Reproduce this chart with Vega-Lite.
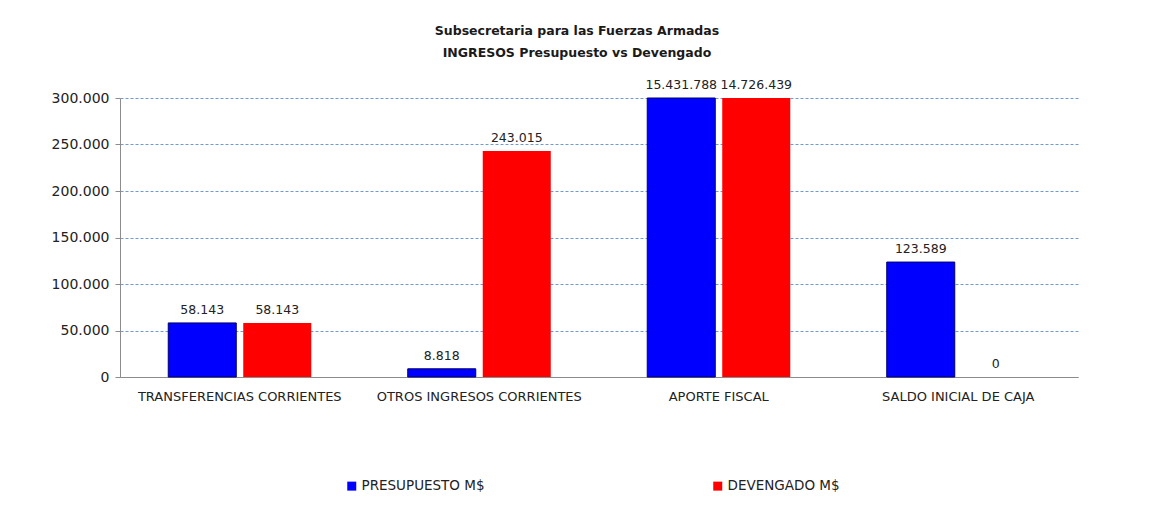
{
  "$schema": "https://vega.github.io/schema/vega-lite/v6.json",
  "autosize": "none",
  "width": 958,
  "height": 279,
  "padding": {"left": 120, "top": 98, "right": 79, "bottom": 150},
  "background": "white",
  "config": {
    "locale": {"number": {"decimal": ",", "thousands": ".", "grouping": [3], "currency": ["$", ""]}},
    "view": {"stroke": null},
    "font": "DejaVu Sans"
  },
  "title": {
    "text": ["Subsecretaria para las Fuerzas Armadas", "INGRESOS Presupuesto vs Devengado"],
    "font": "DejaVu Sans",
    "fontSize": 12.5,
    "fontWeight": "bold",
    "color": "#1a1a1a",
    "lineHeight": 22,
    "offset": 20,
    "dx": -22,
    "anchor": "middle"
  },
  "data": {
    "values": [
      {"categoria": "TRANSFERENCIAS CORRIENTES", "serie": "PRESUPUESTO M$", "monto": 58143},
      {"categoria": "TRANSFERENCIAS CORRIENTES", "serie": "DEVENGADO M$", "monto": 58143},
      {"categoria": "OTROS INGRESOS CORRIENTES", "serie": "PRESUPUESTO M$", "monto": 8818},
      {"categoria": "OTROS INGRESOS CORRIENTES", "serie": "DEVENGADO M$", "monto": 243015},
      {"categoria": "APORTE FISCAL", "serie": "PRESUPUESTO M$", "monto": 15431788},
      {"categoria": "APORTE FISCAL", "serie": "DEVENGADO M$", "monto": 14726439},
      {"categoria": "SALDO INICIAL DE CAJA", "serie": "PRESUPUESTO M$", "monto": 123589},
      {"categoria": "SALDO INICIAL DE CAJA", "serie": "DEVENGADO M$", "monto": 0}
    ]
  },
  "encoding": {
    "x": {
      "field": "categoria",
      "type": "nominal",
      "sort": ["TRANSFERENCIAS CORRIENTES", "OTROS INGRESOS CORRIENTES", "APORTE FISCAL", "SALDO INICIAL DE CAJA"],
      "scale": {"paddingInner": 0, "paddingOuter": 0},
      "axis": {
        "title": null,
        "labelAngle": 0,
        "labelLimit": 0,
        "ticks": false,
        "domainColor": "#8c8c8c",
        "labelFont": "DejaVu Sans",
        "labelFontSize": 13,
        "labelColor": "#222222",
        "labelPadding": 13
      }
    },
    "xOffset": {
      "field": "serie",
      "type": "nominal",
      "sort": ["PRESUPUESTO M$", "DEVENGADO M$"],
      "scale": {"paddingInner": 0.0933, "paddingOuter": 0.643}
    },
    "y": {
      "field": "monto",
      "type": "quantitative",
      "scale": {"domain": [0, 300000], "clamp": true, "nice": false},
      "axis": {
        "title": null,
        "values": [0, 50000, 100000, 150000, 200000, 250000, 300000],
        "format": ",d",
        "grid": true,
        "gridColor": "#6f9bd1",
        "gridDash": [3, 2],
        "gridWidth": 1,
        "domainColor": "#8c8c8c",
        "tickColor": "#8c8c8c",
        "tickSize": 5,
        "labelFont": "DejaVu Sans",
        "labelFontSize": 14,
        "labelColor": "#222222",
        "labelPadding": 6
      }
    }
  },
  "layer": [
    {
      "mark": {"type": "bar", "strokeWidth": 1},
      "encoding": {
        "color": {
          "field": "serie",
          "type": "nominal",
          "sort": ["PRESUPUESTO M$", "DEVENGADO M$"],
          "scale": {"domain": ["PRESUPUESTO M$", "DEVENGADO M$"], "range": ["#0000ff", "#ff0000"]},
          "legend": {
            "title": null,
            "orient": "none",
            "legendX": 225,
            "legendY": 381,
            "direction": "horizontal",
            "symbolType": "square",
            "symbolSize": 81,
            "symbolStrokeWidth": 0,
            "labelFont": "DejaVu Sans",
            "labelFontSize": 13.5,
            "labelColor": "#222222",
            "labelOffset": 3,
            "columnPadding": 226
          }
        },
        "stroke": {
          "field": "serie",
          "type": "nominal",
          "scale": {"domain": ["PRESUPUESTO M$", "DEVENGADO M$"], "range": ["#00006e", "transparent"]},
          "legend": null
        }
      }
    },
    {
      "mark": {"type": "text", "baseline": "bottom", "dy": -6, "font": "DejaVu Sans", "fontSize": 12.5, "color": "#222222"},
      "encoding": {
        "text": {"field": "monto", "type": "quantitative", "format": ",d"}
      }
    }
  ]
}
